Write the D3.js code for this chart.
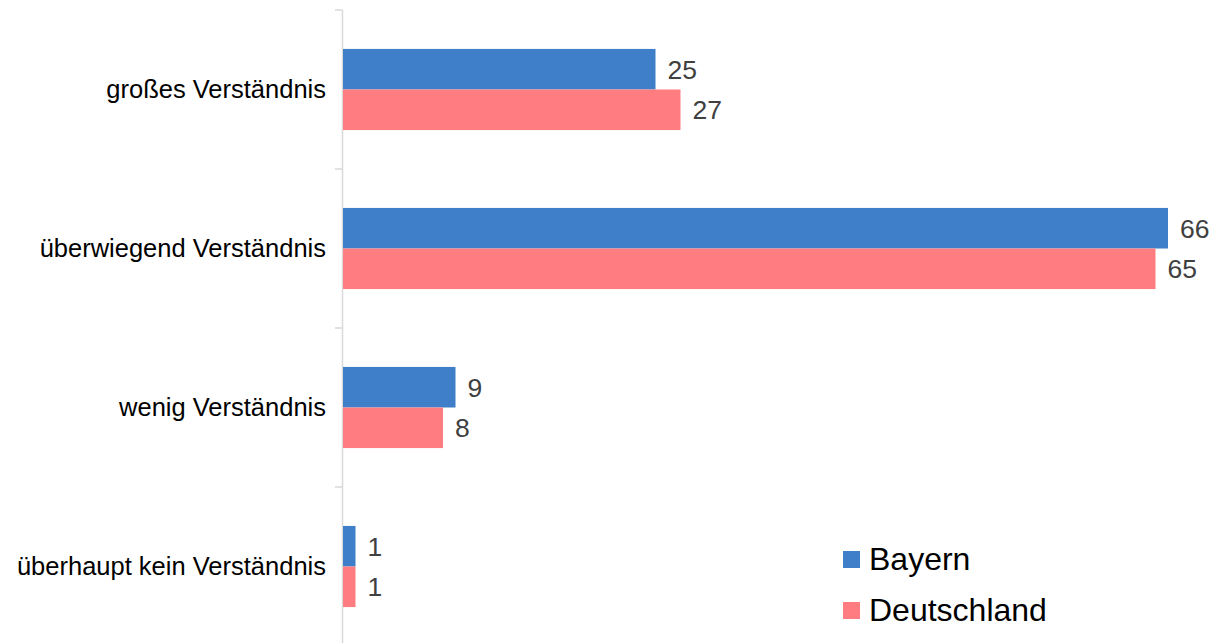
<!DOCTYPE html>
<html>
<head>
<meta charset="utf-8">
<script src="https://cdn.jsdelivr.net/npm/d3@7"></script>
<style>
  body { margin: 0; background: #fff; }
  svg { display: block; font-family: "Liberation Sans", Arial, sans-serif; }
</style>
</head>
<body>
<svg id="chart" width="1223" height="643"></svg>
<script>
var categories = ["großes Verständnis", "überwiegend Verständnis", "wenig Verständnis", "überhaupt kein Verständnis"];
var seriesNames = ["Bayern", "Deutschland"];
var bayern = [25, 66, 9, 1];
var deutschland = [27, 65, 8, 1];
var seriesColors = ["#3f7ec8", "#ff7c80"];

var svg = d3.select("#chart");

var y = d3.scaleBand()
    .domain(categories)
    .range([10, 646])
    .paddingInner(0)
    .paddingOuter(0);

var ySub = d3.scaleBand()
    .domain(seriesNames)
    .range([0, y.bandwidth()])
    .paddingInner(0)
    .paddingOuter(0.96);

var x = d3.scaleLinear()
    .domain([0, 66])
    .range([343, 343 + 66 * 12.5]);

var rows = categories.map(function(c, i) {
    return {cat: c, values: [
        {name: seriesNames[0], v: bayern[i], color: seriesColors[0]},
        {name: seriesNames[1], v: deutschland[i], color: seriesColors[1]}
    ]};
});

// axis line + ticks at band edges
var axis = svg.append("g").attr("class", "axis");
axis.append("line")
    .attr("x1", 342.5).attr("x2", 342.5)
    .attr("y1", y.range()[0]).attr("y2", y.range()[1])
    .attr("stroke", "#d9d9d9").attr("stroke-width", 1.5);
axis.selectAll(".tick")
    .data(categories.concat(["end"]))
    .enter().append("line")
    .attr("class", "tick")
    .attr("x1", 335).attr("x2", 342.5)
    .attr("y1", function(d) { return d == "end" ? y.range()[1] : y(d); })
    .attr("y2", function(d) { return d == "end" ? y.range()[1] : y(d); })
    .attr("stroke", "#d9d9d9").attr("stroke-width", 1.5);

axis.selectAll(".catlabel")
    .data(categories)
    .enter().append("text")
    .attr("class", "catlabel")
    .attr("x", 326)
    .attr("y", function(d) { return y(d) + y.bandwidth() / 2; })
    .attr("dy", "0.35em")
    .attr("text-anchor", "end")
    .attr("font-size", "25.5px")
    .attr("fill", "#000")
    .text(function(d) { return d; });

var group = svg.selectAll(".group")
    .data(rows)
    .enter().append("g")
    .attr("class", "group")
    .attr("transform", function(d) { return "translate(0," + y(d.cat) + ")"; });

group.selectAll("rect")
    .data(function(d) { return d.values; })
    .enter().append("rect")
    .attr("x", x(0))
    .attr("y", function(d) { return ySub(d.name); })
    .attr("width", function(d) { return x(d.v) - x(0); })
    .attr("height", ySub.bandwidth())
    .attr("fill", function(d) { return d.color; });

group.selectAll(".val")
    .data(function(d) { return d.values; })
    .enter().append("text")
    .attr("class", "val")
    .attr("x", function(d) { return x(d.v) + 12; })
    .attr("y", function(d) { return ySub(d.name) + ySub.bandwidth() / 2; })
    .attr("dy", "0.36em")
    .attr("font-size", "26.5px")
    .attr("fill", "#404040")
    .text(function(d) { return d.v; });

// legend
var legend = svg.selectAll(".legend")
    .data(seriesNames)
    .enter().append("g")
    .attr("class", "legend")
    .attr("transform", function(d, i) { return "translate(843," + (551 + i * 51) + ")"; });

legend.append("rect")
    .attr("width", 17).attr("height", 17)
    .attr("fill", function(d, i) { return seriesColors[i]; });

legend.append("text")
    .attr("x", 26)
    .attr("y", 18.5)
    .attr("font-size", "32px")
    .attr("fill", "#000")
    .text(function(d) { return d; });
</script>
</body>
</html>
